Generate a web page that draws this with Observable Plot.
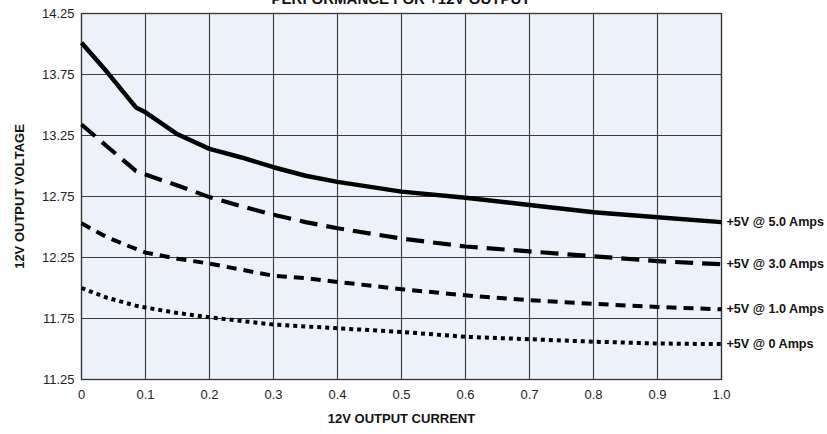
<!DOCTYPE html>
<html><head><meta charset="utf-8">
<script src="https://cdn.jsdelivr.net/npm/d3@7"></script>
<script src="https://cdn.jsdelivr.net/npm/@observablehq/plot@0.6"></script>
<style>
body{margin:0;background:#fff;font-family:"Liberation Sans",Arial,sans-serif;}
#wrap{position:relative;width:827px;height:434px;overflow:hidden}
#title{position:absolute;left:81px;width:640px;top:-10px;text-align:center;font-weight:bold;font-size:15px;color:#111;line-height:17px}
</style></head><body><div id="wrap"><div id="title">PERFORMANCE FOR +12V OUTPUT</div><div id="chart"></div></div>
<script>
const current = [0, 0.04, 0.085, 0.1, 0.15, 0.2, 0.25, 0.3, 0.35, 0.4, 0.5, 0.6, 0.7, 0.8, 0.9, 1.0];
const v5A = [14.01, 13.77, 13.48, 13.44, 13.26, 13.14, 13.07, 12.99, 12.92, 12.87, 12.79, 12.74, 12.68, 12.62, 12.58, 12.54];
const v3A = [13.34, 13.16, 12.96, 12.93, 12.84, 12.745, 12.67, 12.60, 12.54, 12.49, 12.405, 12.34, 12.30, 12.26, 12.22, 12.195];
const v1A = [12.53, 12.415, 12.32, 12.29, 12.24, 12.20, 12.15, 12.10, 12.08, 12.05, 11.99, 11.94, 11.90, 11.87, 11.845, 11.825];
const v0A = [12.00, 11.92, 11.855, 11.84, 11.795, 11.76, 11.73, 11.70, 11.685, 11.67, 11.64, 11.60, 11.58, 11.56, 11.545, 11.54];
const seriesNames = ["+5V @ 5.0 Amps", "+5V @ 3.0 Amps", "+5V @ 1.0 Amps", "+5V @ 0 Amps"];
const seriesValues = [v5A, v3A, v1A, v0A];
const xTicks = [0, 0.1, 0.2, 0.3, 0.4, 0.5, 0.6, 0.7, 0.8, 0.9, 1.0];
const xTickLabels = ["0", "0.1", "0.2", "0.3", "0.4", "0.5", "0.6", "0.7", "0.8", "0.9", "1.0"];
const yTicks = [11.25, 11.75, 12.25, 12.75, 13.25, 13.75, 14.25];
const yTickLabels = ["11.25", "11.75", "12.25", "12.75", "13.25", "13.75", "14.25"];
const yGrid = [11.75, 12.25, 12.75, 13.25, 13.75];

const dash = ["none", "18,9", "10,7", "4,4"];
const widths = [4.5, 4.2, 4, 4];

const lineMarks = seriesValues.map((vals, i) => {
  const rows = current.map((c, j) => ({x: c, y: vals[j]}));
  return Plot.line(rows, {x: "x", y: "y", stroke: "#000", strokeWidth: widths[i], strokeDasharray: dash[i], strokeLinecap: "butt", strokeLinejoin: "round"});
});
const endRows = seriesValues.map((vals, i) => ({x: current[current.length - 1], y: vals[vals.length - 1], name: seriesNames[i]}));

const chart = Plot.plot({
  width: 827, height: 434,
  marginLeft: 81, marginRight: 106, marginTop: 13, marginBottom: 55,
  style: {fontFamily: '"Liberation Sans",Arial,sans-serif', fontSize: "13px", background: "white", color: "#222"},
  x: {domain: [0, 1]},
  y: {domain: [11.25, 14.25]},
  marks: [
    Plot.frame({fill: "#edf2fa", stroke: null}),
    Plot.gridX(xTicks, {stroke: "#3a3a3a", strokeOpacity: 1, strokeWidth: 1.1}),
    Plot.gridY(yGrid, {stroke: "#3a3a3a", strokeOpacity: 1, strokeWidth: 1.1}),
    Plot.frame({stroke: "#333", strokeWidth: 1.3}),
    Plot.axisX(xTicks, {tickSize: 0, tickPadding: 10, tickFormat: (d, i) => xTickLabels[i], label: null, fill: "#222", fontSize: 13}),
    Plot.axisY(yTicks, {tickSize: 0, tickPadding: 7, tickFormat: (d, i) => yTickLabels[i], label: null, fill: "#222", fontSize: 13}),
    ...lineMarks,
    Plot.text(endRows, {x: "x", y: "y", text: "name", textAnchor: "start", dx: 5, fontWeight: "bold", fontSize: 12.6, fill: "#111"}),
    Plot.text(["12V OUTPUT VOLTAGE"], {frameAnchor: "left", dx: -62, rotate: -90, textAnchor: "middle", fontWeight: "bold", fontSize: 13, fill: "#111"}),
    Plot.text(["12V OUTPUT CURRENT"], {frameAnchor: "bottom", dy: 43, textAnchor: "middle", fontWeight: "bold", fontSize: 13, fill: "#111"})
  ]
});
document.getElementById("chart").appendChild(chart);
</script>
</body></html>
